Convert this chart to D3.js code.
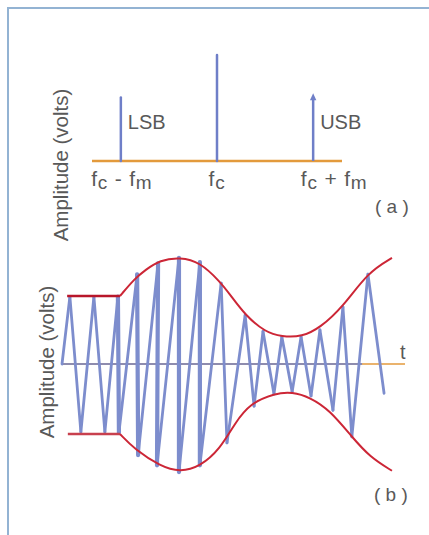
<!DOCTYPE html>
<html lang="en">
<head>
<meta charset="UTF-8">
<script src="https://d3js.org/d3.v7.min.js"></script>
<style>
  body { margin: 0; background: #fff; }
  svg text { font-family: "Liberation Sans", Arial, sans-serif; fill: #595959; }
</style>
</head>
<body>
<div id="chart"></div>
<script>
// (a) spectrum: frequency offset from carrier (in units of fm) and relative amplitude
var specFreq = [-1, 0, 1];
var specAmp = [0.60, 1.0, 0.64];
var specNames = ["LSB", "", "USB"];

// (b) AM waveform, time in ms, amplitude in volts (unmodulated carrier = 1)
var waveT = [0, 0.23, 0.55, 0.93, 1.25, 1.63, 1.66, 2.19, 2.22, 2.80, 2.77, 3.41, 3.41, 4.02, 4.02,
             4.64, 4.81, 5.34, 5.60, 5.86, 6.18, 6.41, 6.71, 6.97, 7.26, 7.52, 7.90, 8.19, 8.45, 8.92, 9.39];
var waveV = [0, 0.99, -1.0, 0.99, -1.0, 0.99, -1.01, 1.32, -1.34, 1.48, -1.49, 1.56, -1.59, 1.50, -1.49,
             1.19, -1.16, 0.72, -0.62, 0.48, -0.44, 0.40, -0.41, 0.40, -0.47, 0.50, -0.68, 0.84, -1.07, 1.32, -0.43];

// envelope (upper and lower); first point starts the flat part
var envTopT = [0.15, 1.69, 2.13, 2.42, 2.86, 3.44, 4.02, 4.61, 4.90, 5.34, 5.92, 6.41, 7.00, 7.52, 8.19, 8.92, 9.62];
var envTopV = [1.0, 1.0, 1.26, 1.38, 1.53, 1.57, 1.50, 1.21, 1.02, 0.72, 0.47, 0.40, 0.40, 0.53, 0.84, 1.35, 1.56];
var envBotT = [0.17, 1.69, 2.13, 2.86, 3.44, 4.02, 4.61, 5.04, 5.48, 6.21, 6.71, 7.23, 7.81, 8.45, 8.98, 9.62];
var envBotV = [-1.03, -1.03, -1.26, -1.50, -1.59, -1.51, -1.25, -0.87, -0.58, -0.43, -0.41, -0.49, -0.68, -1.07, -1.37, -1.57];

var W = 429, H = 535;
var blue = "#7d8dcd", orange = "#e39a3c", red = "#cc2636";

var svg = d3.select("#chart").append("svg")
    .attr("width", W).attr("height", H);

// frame
svg.append("path")
    .attr("d", "M8,535 L8,8 L429,8")
    .attr("fill", "none").attr("stroke", "#93b3d3").attr("stroke-width", 2);

// ---------- (a) spectrum ----------
var xs = d3.scaleLinear().domain([-1.3, 1.3]).range([92, 342]);
var ys = d3.scaleLinear().domain([0, 1]).range([161, 55]);

svg.append("line")
    .attr("x1", xs(-1.3)).attr("x2", xs(1.3))
    .attr("y1", ys(0)).attr("y2", ys(0))
    .attr("stroke", orange).attr("stroke-width", 2.5);

specFreq.forEach(function (f, i) {
    var isArrow = i === 2;
    svg.append("line")
        .attr("x1", xs(f)).attr("x2", xs(f))
        .attr("y1", ys(0)).attr("y2", isArrow ? ys(specAmp[i]) + 5 : ys(specAmp[i]))
        .attr("stroke", "#6f7fc8").attr("stroke-width", 2.5)
        .attr("stroke-linecap", isArrow ? "butt" : "round");
    if (isArrow) {
        var tx = xs(f), ty = ys(specAmp[i]);
        svg.append("path")
            .attr("d", "M" + tx + "," + ty + " L" + (tx + 3.2) + "," + (ty + 7) + " L" + (tx - 3.2) + "," + (ty + 7) + "Z")
            .attr("fill", "#6f7fc8");
    }
    if (specNames[i]) {
        svg.append("text")
            .attr("x", xs(f) + 7).attr("y", 129)
            .style("font-size", "20px")
            .text(specNames[i]);
    }
});

// frequency labels with subscripts
var fLabels = [
    [["f", 0], ["c", 1], [" - f", 0], ["m", 1]],
    [["f", 0], ["c", 1]],
    [["f", 0], ["c", 1], [" + f", 0], ["m", 1]]
];
var fShift = [1, 0, 21];
fLabels.forEach(function (parts, i) {
    var t = svg.append("text")
        .attr("x", xs(specFreq[i]) + fShift[i]).attr("y", 186)
        .attr("text-anchor", "middle")
        .style("font-size", "21px")
        .style("letter-spacing", "0.8px");
    parts.forEach(function (p) {
        t.append("tspan")
            .attr("dy", p[1] ? 3 : -3)
            .style("font-size", p[1] ? "19px" : "21px")
            .text(p[0]);
    });
    t.select("tspan").attr("dy", 0);
});

svg.append("text")
    .attr("x", 375).attr("y", 213)
    .style("font-size", "19px")
    .text("( a )");

svg.append("text")
    .attr("transform", "translate(68,165) rotate(-90)")
    .attr("text-anchor", "middle")
    .style("font-size", "20.5px")
    .text("Amplitude (volts)");

// ---------- (b) waveform ----------
var x = d3.scaleLinear().domain([0, 10]).range([62, 405]);
var y = d3.scaleLinear().domain([-1, 1]).range([432, 296]);

svg.append("line")
    .attr("x1", x(0)).attr("x2", x(10))
    .attr("y1", y(0)).attr("y2", y(0))
    .attr("stroke", orange).attr("stroke-width", 1.5);
svg.append("line")
    .attr("x1", x(0)).attr("x2", x(8.75))
    .attr("y1", y(0)).attr("y2", y(0))
    .attr("stroke", "#6f7fc4").attr("stroke-width", 1.5);

var pts = waveT.map(function (t, i) { return [x(t), y(waveV[i])]; });
var segs = d3.pairs(pts);

svg.append("g").selectAll("line")
    .data(segs)
    .enter().append("line")
    .attr("x1", function (d) { return d[0][0]; })
    .attr("y1", function (d) { return d[0][1]; })
    .attr("x2", function (d) { return d[1][0]; })
    .attr("y2", function (d) { return d[1][1]; })
    .attr("stroke", blue)
    .attr("stroke-linecap", "round")
    .attr("stroke-width", function (d) {
        return Math.abs(d[1][0] - d[0][0]) < 3 ? 4.2 : 2.8;
    });

var env = d3.line()
    .x(function (d) { return x(d[0]); })
    .y(function (d) { return y(d[1]); })
    .curve(d3.curveBasis);

function drawEnvelope(ts, vs, flatColor) {
    var d = ts.map(function (t, i) { return [t, vs[i]]; });
    // flat (unmodulated) part
    svg.append("line")
        .attr("x1", x(d[0][0])).attr("x2", x(d[1][0]))
        .attr("y1", y(d[0][1])).attr("y2", y(d[1][1]))
        .attr("stroke", flatColor).attr("stroke-width", 2.5);
    // modulated part
    svg.append("path")
        .datum(d.slice(1))
        .attr("d", env)
        .attr("fill", "none").attr("stroke", red).attr("stroke-width", 2);
}
drawEnvelope(envTopT, envTopV, "#b8162a");
drawEnvelope(envBotT, envBotV, "#c8404e");

svg.append("text")
    .attr("x", 400).attr("y", 359)
    .style("font-size", "20px")
    .text("t");

svg.append("text")
    .attr("x", 374).attr("y", 501)
    .style("font-size", "19px")
    .text("( b )");

svg.append("text")
    .attr("transform", "translate(54,362) rotate(-90)")
    .attr("text-anchor", "middle")
    .style("font-size", "20.5px")
    .text("Amplitude (volts)");
</script>
</body>
</html>
